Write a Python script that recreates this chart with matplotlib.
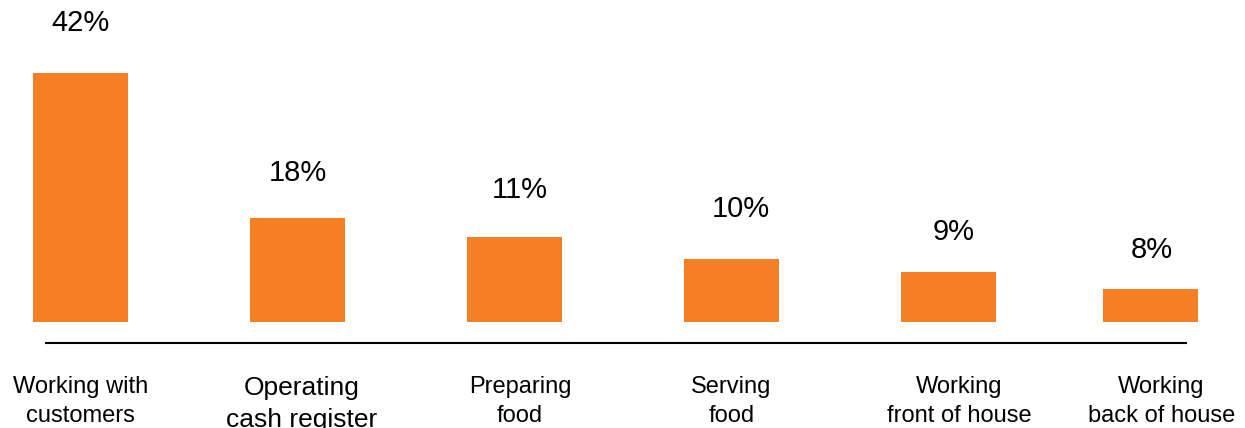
import matplotlib
matplotlib.use("Agg")
import matplotlib.pyplot as plt
import numpy as np

plt.rcParams['font.family'] = ['Liberation Sans', 'DejaVu Sans']

# data
categories = ["Working with\ncustomers", "Operating\ncash register", "Preparing\nfood",
              "Serving\nfood", "Working\nfront of house", "Working\nback of house"]
value_labels = ["42%", "18%", "11%", "10%", "9%", "8%"]
# bar heights as drawn in the picture (in % units)
bar_heights = [42, 17.5, 14.3, 10.6, 8.4, 5.6]

# layout (slot units / pixels), labels were placed by hand in the original
bar_x = [0, 1, 2, 3, 4, 4.93]
value_x = [0, 1.0, 2.025, 3.044, 4.025, 4.935]
value_gap_px = [42, 37, 39, 42, 32, 31]
label_x = [0, 1.02, 2.025, 3.0, 4.05, 4.98]
cat_sizes = [17, 19, 17, 17, 17, 17]
orange = "#F47F24"

W, H = 1245, 428
fig = plt.figure(figsize=(W / 100, H / 100), dpi=100)
ax = fig.add_axes([0, 0, 1, 1])

px_x = 217.0      # pixels per slot
px_y = 249 / 42.  # pixels per % unit
x0, y0 = 80.5, 322  # pixel of slot 0 centre and baseline (from top)

ax.set_xlim(-x0 / px_x, (W - x0) / px_x)
ax.set_ylim(-(H - y0) / px_y, y0 / px_y)
ax.axis("off")

ax.bar(bar_x, bar_heights, width=95 / px_x, color=orange, edgecolor="none")

for x, h, lab, g in zip(value_x, bar_heights, value_labels, value_gap_px):
    ax.text(x, h + g / px_y, lab, ha="center", va="baseline", fontsize=21, color="black")

# baseline rule
ax.plot([(45 - x0) / px_x, (1187 - x0) / px_x], [-(343 - y0) / px_y] * 2,
        color="black", lw=1.5, solid_capstyle="butt")

for x, cat, fs in zip(label_x, categories, cat_sizes):
    ax.text(x, -(376 - y0) / px_y, cat, ha="center", va="top", fontsize=fs,
            linespacing=1.4, color="black")

fig.savefig("out.png", dpi=100)
